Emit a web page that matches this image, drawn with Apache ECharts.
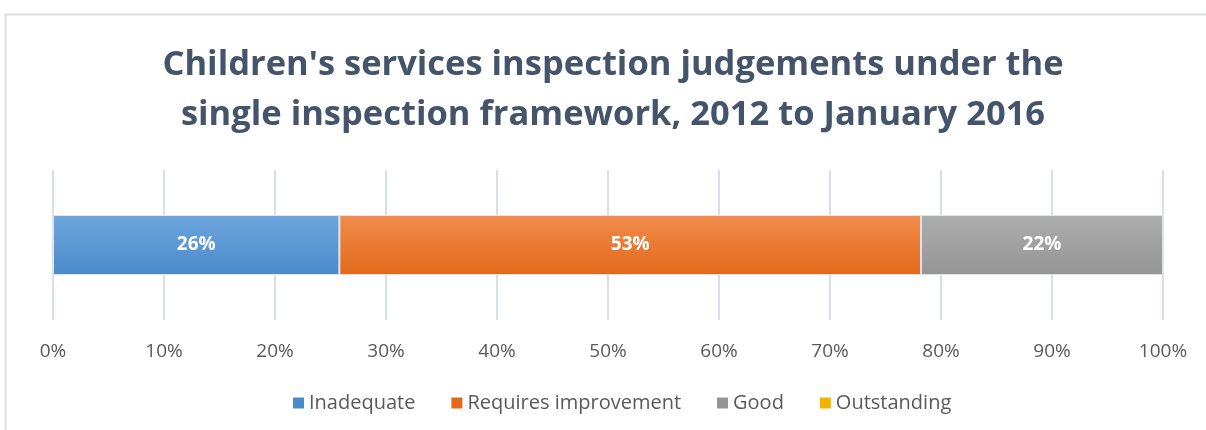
<!DOCTYPE html>
<html>
<head>
<meta charset="utf-8">
<script src="https://cdn.jsdelivr.net/npm/echarts@6/dist/echarts.min.js"></script>
<style>
html, body { margin: 0; padding: 0; background: #fff; }
#main { width: 1206px; height: 430px; }
</style>
</head>
<body>
<div id="main"></div>
<script>
'use strict';
// 数据
var categories = ['Judgement'];
var seriesNames = ['Inadequate', 'Requires improvement', 'Good', 'Outstanding'];
var inadequate = [25.8];
var requiresImprovement = [52.4];
var good = [21.8];
var outstanding = [0];
var seriesLabels = ['26%', '53%', '22%', ''];
var tickLabels = ['0%', '10%', '20%', '30%', '40%', '50%', '60%', '70%', '80%', '90%', '100%'];

var topColors = ['#6ea6dd', '#f18c4d', '#adadad', '#ffc000'];
var bottomColors = ['#4a8acb', '#e2691a', '#959595', '#f0b400'];
var valueSets = [inadequate, requiresImprovement, good, outstanding];

function grad(i) {
	return new echarts.graphic.LinearGradient(0, 0, 0, 1, [
		{ offset: 0, color: topColors[i] },
		{ offset: 1, color: bottomColors[i] }
	]);
}

var series = seriesNames.map(function(name, i) {
	return {
		name: name,
		type: 'bar',
		stack: 'total',
		barWidth: 60,
		data: valueSets[i],
		itemStyle: {
			color: grad(i),
			borderColor: '#dfe3ea',
			borderWidth: 1
		},
		label: {
			show: i < 3,
			position: 'inside',
			color: '#ffffff',
			fontWeight: 'bold',
			fontSize: 19,
			fontFamily: 'Open Sans',
			formatter: function() { return seriesLabels[i]; }
		}
	};
});

var chart = echarts.init(document.getElementById('main'));
chart.setOption({
	animation: false,
	color: topColors,
	title: {
		text: "Children's services inspection judgements under the\nsingle inspection framework, 2012 to January 2016",
		left: 608,
		top: 35,
		textAlign: 'center',
		textStyle: {
			color: '#44546a',
			fontSize: 34.5,
			fontWeight: 'bold',
			fontFamily: 'Open Sans',
			lineHeight: 50
		}
	},
	graphic: [{
		type: 'rect',
		shape: { x: 5.5, y: 14.5, width: 1210, height: 430 },
		style: { fill: 'none', stroke: '#dadde3', lineWidth: 2 },
		silent: true
	}],
	legend: {
		bottom: 12,
		left: 288,
		itemWidth: 11,
		itemHeight: 11,
		itemGap: 36,
		icon: 'rect',
		textStyle: { color: '#595959', fontSize: 20, fontFamily: 'Open Sans' },
		data: seriesNames.map(function(n, i) {
			return { name: n, itemStyle: { color: bottomColors[i], borderWidth: 0 } };
		})
	},
	grid: { left: 53, right: 43, top: 170, bottom: 110 },
	xAxis: {
		type: 'value',
		min: 0,
		max: 100,
		interval: 10,
		axisLine: { show: false },
		axisTick: { show: false },
		splitLine: { lineStyle: { color: '#d9dee8', width: 2 } },
		axisLabel: {
			color: '#595959',
			fontSize: 19,
			fontFamily: 'Open Sans',
			margin: 22,
			formatter: function(v) { return tickLabels[Math.round(v / 10)]; }
		}
	},
	yAxis: {
		type: 'category',
		data: categories,
		axisLine: { show: false },
		axisTick: { show: false },
		axisLabel: { show: false }
	},
	series: series
});
</script>
</body>
</html>
